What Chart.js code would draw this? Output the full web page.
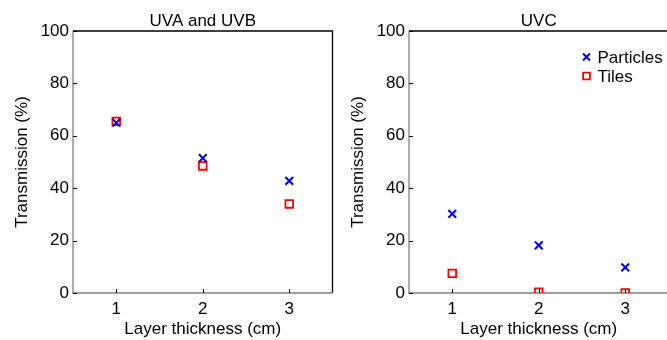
<!DOCTYPE html>
<html>
<head>
<meta charset="utf-8">
<script src="https://cdn.jsdelivr.net/npm/chart.js@4.4.1/dist/chart.umd.min.js"></script>
<style>
  html, body { margin: 0; padding: 0; background: #fff; }
  #wrap { position: relative; width: 667px; height: 340px; overflow: hidden; }
  .panel { position: absolute; top: 0; width: 340px; height: 340px; }
</style>
</head>
<body>
<div id="wrap">
  <div class="panel" style="left:0"><canvas id="uvab" width="340" height="340"></canvas></div>
  <div class="panel" style="left:336px"><canvas id="uvc" width="340" height="340"></canvas></div>
</div>
<script>
// x positions and tick labels
const thickness = [1, 2, 3];
const yTicks = [0, 20, 40, 60, 80, 100];

// UVA and UVB panel
const uvabParticles = [65, 51.5, 42.8];
const uvabTiles = [65.5, 48.5, 34];

// UVC panel
const uvcParticles = [30.2, 18.2, 9.8];
const uvcTiles = [7.5, 0.3, 0];

const seriesNames = ["Particles", "Tiles"];

const FONT = '"Liberation Sans", Arial, sans-serif';
Chart.defaults.font.family = FONT;
Chart.defaults.font.size = 17;
Chart.defaults.color = "#000";

function toPoints(values) {
    return thickness.map((t, i) => ({ x: t, y: values[i] }));
}

// frame, title over the plot box and inward tick marks, matlab style
const framePlugin = {
    id: "frame",
    beforeDatasetsDraw(chart, args, opts) {
        const { ctx, chartArea: a } = chart;
        ctx.save();
        ctx.lineWidth = 1.3;
        ctx.strokeStyle = "#000";
        ctx.beginPath();
        ctx.moveTo(a.left, a.top);
        ctx.lineTo(a.right, a.top);
        ctx.lineTo(a.right, a.bottom);
        ctx.stroke();
        ctx.strokeStyle = "#808080";
        ctx.beginPath();
        ctx.moveTo(a.left, a.top);
        ctx.lineTo(a.left, a.bottom);
        ctx.lineTo(a.right, a.bottom);
        ctx.stroke();

        ctx.font = "17px " + FONT;
        ctx.fillStyle = "#000";
        ctx.textAlign = "center";
        ctx.textBaseline = "middle";
        ctx.fillText(opts.title, (a.left + a.right) / 2, a.top - 10);
        ctx.restore();
    },
    afterDatasetsDraw(chart) {
        const { ctx, chartArea: a, scales } = chart;
        ctx.save();
        ctx.lineWidth = 1;
        ctx.strokeStyle = "#000";
        ctx.beginPath();
        scales.x.ticks.forEach(t => {
            const px = Math.round(scales.x.getPixelForValue(t.value)) + 0.5;
            ctx.moveTo(px, a.bottom);
            ctx.lineTo(px, a.bottom - 4);
        });
        scales.y.ticks.forEach(t => {
            const py = Math.round(scales.y.getPixelForValue(t.value)) + 0.5;
            ctx.moveTo(a.left, py);
            ctx.lineTo(a.left + 4, py);
        });
        ctx.stroke();
        ctx.restore();
    }
};

// small legend in the top right corner of the plot
const cornerLegend = {
    id: "cornerLegend",
    afterDraw(chart, args, opts) {
        if (!opts.show) return;
        const { ctx, chartArea: a } = chart;
        ctx.save();
        ctx.font = "17px " + FONT;
        ctx.textBaseline = "middle";
        chart.data.datasets.forEach((ds, i) => {
            const y = a.top + 26 + i * 19;
            const x = a.right - 82;
            ctx.strokeStyle = ds.borderColor;
            ctx.fillStyle = ds.backgroundColor;
            ctx.lineWidth = ds.pointBorderWidth;
            Chart.helpers.drawPoint(ctx, {
                pointStyle: ds.pointStyle,
                radius: ds.pointRadius - 0.6,
                borderWidth: ds.pointBorderWidth
            }, x, y);
            ctx.fillStyle = "#000";
            ctx.fillText(ds.label, x + 11, y + 1);
        });
        ctx.restore();
    }
};

function makePanel(canvasId, title, particles, tiles, showLegend) {
    return new Chart(document.getElementById(canvasId), {
        type: "scatter",
        data: {
            datasets: [{
                label: seriesNames[0],
                data: toPoints(particles),
                pointStyle: "crossRot",
                pointRadius: 5.5,
                pointHoverRadius: 5.5,
                pointBorderWidth: 2,
                borderColor: "#0000ff",
                backgroundColor: "#0000ff"
            }, {
                label: seriesNames[1],
                data: toPoints(tiles),
                pointStyle: "rect",
                pointRadius: 5.4,
                pointHoverRadius: 5.4,
                pointBorderWidth: 1.8,
                borderColor: "#ff0000",
                backgroundColor: "rgba(0,0,0,0)"
            }]
        },
        options: {
            responsive: false,
            animation: false,
            events: [],
            layout: { padding: { left: 9, right: 5, top: 31, bottom: 0 } },
            plugins: {
                legend: { display: false },
                tooltip: { enabled: false },
                title: { display: false },
                frame: { title: title },
                cornerLegend: { show: showLegend }
            },
            scales: {
                x: {
                    type: "linear",
                    min: 0.5,
                    max: 3.5,
                    afterBuildTicks: scale => { scale.ticks = thickness.map(v => ({ value: v })); },
                    afterFit: scale => {
                        scale.height = 47;
                        scale.paddingLeft = 0;
                        scale.paddingRight = 0;
                    },
                    grid: { display: false, drawTicks: false },
                    border: { display: false },
                    ticks: { padding: 6 },
                    title: {
                        display: true,
                        text: "Layer thickness (cm)",
                        padding: { top: 0, bottom: 0 }
                    }
                },
                y: {
                    min: 0,
                    max: 100,
                    afterBuildTicks: scale => { scale.ticks = yTicks.map(v => ({ value: v })); },
                    afterFit: scale => {
                        scale.width = 64;
                        scale.paddingTop = 0;
                        scale.paddingBottom = 0;
                    },
                    grid: { display: false, drawTicks: false },
                    border: { display: false },
                    ticks: { padding: 4 },
                    title: {
                        display: true,
                        text: "Transmission (%)",
                        padding: { top: 3, bottom: 3 }
                    }
                }
            }
        },
        plugins: [framePlugin, cornerLegend]
    });
}

makePanel("uvab", "UVA and UVB", uvabParticles, uvabTiles, false);
makePanel("uvc", "UVC", uvcParticles, uvcTiles, true);
</script>
</body>
</html>
